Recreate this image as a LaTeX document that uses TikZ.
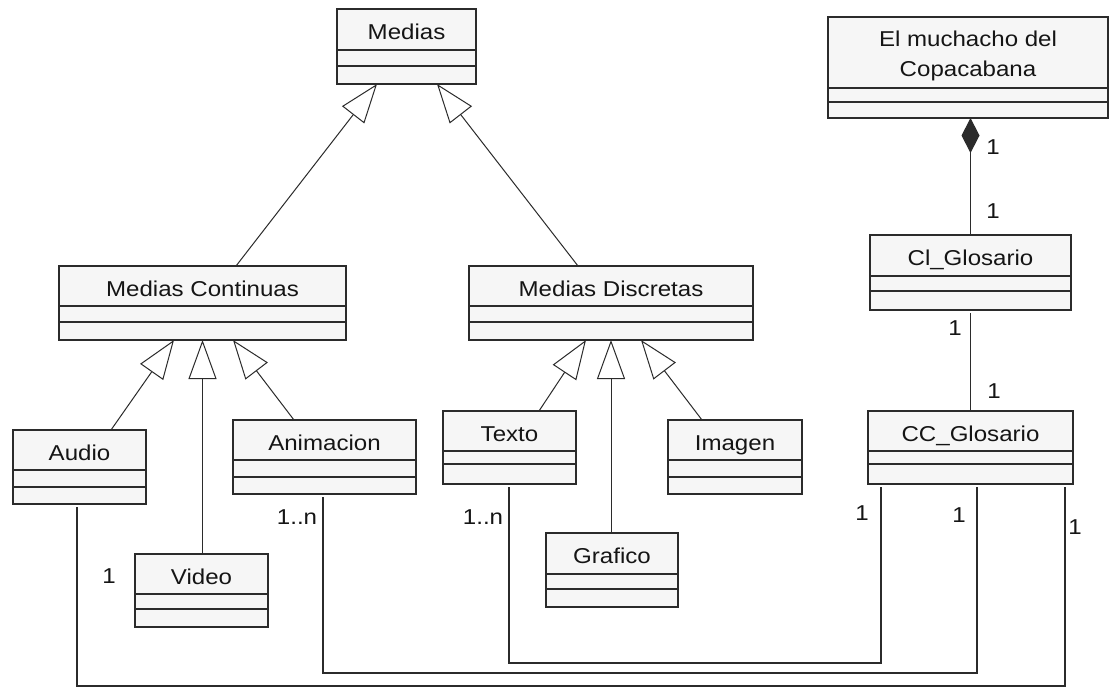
\documentclass[tikz,border=0pt]{standalone}
\usepackage{fontspec}
\setmainfont{Liberation Sans}[FakeStretch=1.12]
\usetikzlibrary{arrows.meta,fit,calc}

\definecolor{umlline}{HTML}{2B2B2B}
\definecolor{umlfill}{HTML}{F6F6F6}
\definecolor{umltext}{HTML}{151515}

\tikzset{
  classbox/.style={draw=umlline, fill=umlfill, line width=1.1pt, inner sep=0pt, outer sep=0pt},
  divider/.style={draw=umlline, line width=1.1pt},
  ctitle/.style={font=\fontsize{21.5}{30}\selectfont, text=umltext, inner sep=0pt, anchor=base},
  mult/.style={font=\fontsize{21.5}{30}\selectfont, text=umltext, inner sep=0pt},
  gen/.style={draw=umlline, line width=1pt, -{Triangle[open, length=39pt, width=28pt]}},
  comp/.style={draw=umlline, line width=1.1pt, -{Diamond[length=35pt, width=18pt]}},
  assoc/.style={draw=umlline, line width=1.1pt},
}

% class box: name, left, top, right, bottom, first divider, second divider, title
\newcommand{\umlclass}[8]{%
  \node[classbox, fit={(#2,#3) (#4,#5)}] (#1) {};
  \draw[divider] (#2,#6) -- (#4,#6);
  \draw[divider] (#2,#7) -- (#4,#7);
  \node[ctitle] (#1-title) at ($(#1.north)+(0,30)$) {#8};
}

\begin{document}
\begin{tikzpicture}[x=1pt, y=-1pt]
  \fill[white] (0,0) rectangle (1110,689);
  \useasboundingbox (0,0) rectangle (1110,689);
  \clip (0,0) rectangle (1110,689);

  % classes
  \umlclass{medias}{337}{9}{476}{84}{50}{66}{Medias}
  \umlclass{mc}{59}{266}{346}{340}{306}{322}{Medias Continuas}
  \umlclass{md}{469}{266}{753}{340}{306}{322}{Medias Discretas}
  \umlclass{cl}{870}{235}{1071}{310}{276}{291}{Cl\_Glosario}
  \umlclass{audio}{13}{430}{146}{504}{470}{487}{Audio}
  \umlclass{ani}{233}{420}{416}{494}{460}{477}{Animacion}
  \umlclass{texto}{443}{411}{576}{484}{451}{464}{Texto}
  \umlclass{imagen}{668}{420}{802}{494}{460}{477}{Imagen}
  \umlclass{cc}{868}{411}{1073}{484}{451}{464}{CC\_Glosario}
  \umlclass{video}{135}{554}{268}{627}{594}{609}{Video}
  \umlclass{grafico}{546}{533}{678}{607}{574}{589}{Grafico}

  % the two-line class
  \node[classbox, fit={(828,17) (1108,118)}] (el) {};
  \draw[divider] (828,88) -- (1108,88);
  \draw[divider] (828,102) -- (1108,102);
  \node[ctitle] (el-title1) at ($(el.north)+(0,29)$) {El muchacho del};
  \node[ctitle] (el-title2) at ($(el.north)+(0,59)$) {Copacabana};

  % generalisations
  \draw[gen] ([xshift=177pt]mc.north west) -- ([xshift=40pt]medias.south west);
  \draw[gen] ([xshift=109pt]md.north west) -- ([xshift=100pt]medias.south west);
  \draw[gen] ([xshift=98pt]audio.north west) -- ([xshift=115pt]mc.south west);
  \draw[gen] (mc.south |- video.north) -- (mc.south);
  \draw[gen] ([xshift=61pt]ani.north west) -- ([xshift=174pt]mc.south west);
  \draw[gen] ([xshift=96pt]texto.north west) -- ([xshift=117pt]md.south west);
  \draw[gen] (md.south |- grafico.north) -- (md.south);
  \draw[gen] ([xshift=34pt]imagen.north west) -- ([xshift=172pt]md.south west);

  % composition and glossary link
  \draw[comp] (cl.north) -- (cl.north |- el.south);
  \draw[assoc, shorten <=3pt] (cl.south) -- (cl.south |- cc.north);

  % routed associations to CC_Glosario
  \coordinate (busA) at (0,663);
  \coordinate (busB) at (0,673);
  \coordinate (busC) at (0,686);
  \coordinate (texto-end) at ([xshift=66pt]texto.south west);
  \coordinate (ani-end) at ([xshift=90pt]ani.south west);
  \coordinate (audio-end) at ([xshift=64pt]audio.south west);
  \coordinate (cc-a) at ([xshift=13pt]cc.south west);
  \coordinate (cc-b) at ([xshift=109pt]cc.south west);
  \coordinate (cc-c) at ([xshift=197pt]cc.south west);
  \draw[assoc, shorten <=3pt, shorten >=3pt] (texto-end) -- (texto-end |- busA) -- (cc-a |- busA) -- (cc-a);
  \draw[assoc, shorten <=3pt, shorten >=3pt] (ani-end) -- (ani-end |- busB) -- (cc-b |- busB) -- (cc-b);
  \draw[assoc, shorten <=3pt, shorten >=3pt] (audio-end) -- (audio-end |- busC) -- (cc-c |- busC) -- (cc-c);

  % multiplicities
  \node[mult] (m-comp-top) at (993,147) {1};
  \node[mult] (m-comp-bot) at (993,211) {1};
  \node[mult] (m-cl) at (955,328) {1};
  \node[mult] (m-cc) at (994,391) {1};
  \node[mult] (m-audio) at (109,576) {1};
  \node[mult] (m-ani) at (297,517) {1..n};
  \node[mult] (m-texto) at (483,517) {1..n};
  \node[mult] (m-cc-a) at (862,513) {1};
  \node[mult] (m-cc-b) at (959,515) {1};
  \node[mult] (m-cc-c) at (1075,527) {1};
\end{tikzpicture}
\end{document}
